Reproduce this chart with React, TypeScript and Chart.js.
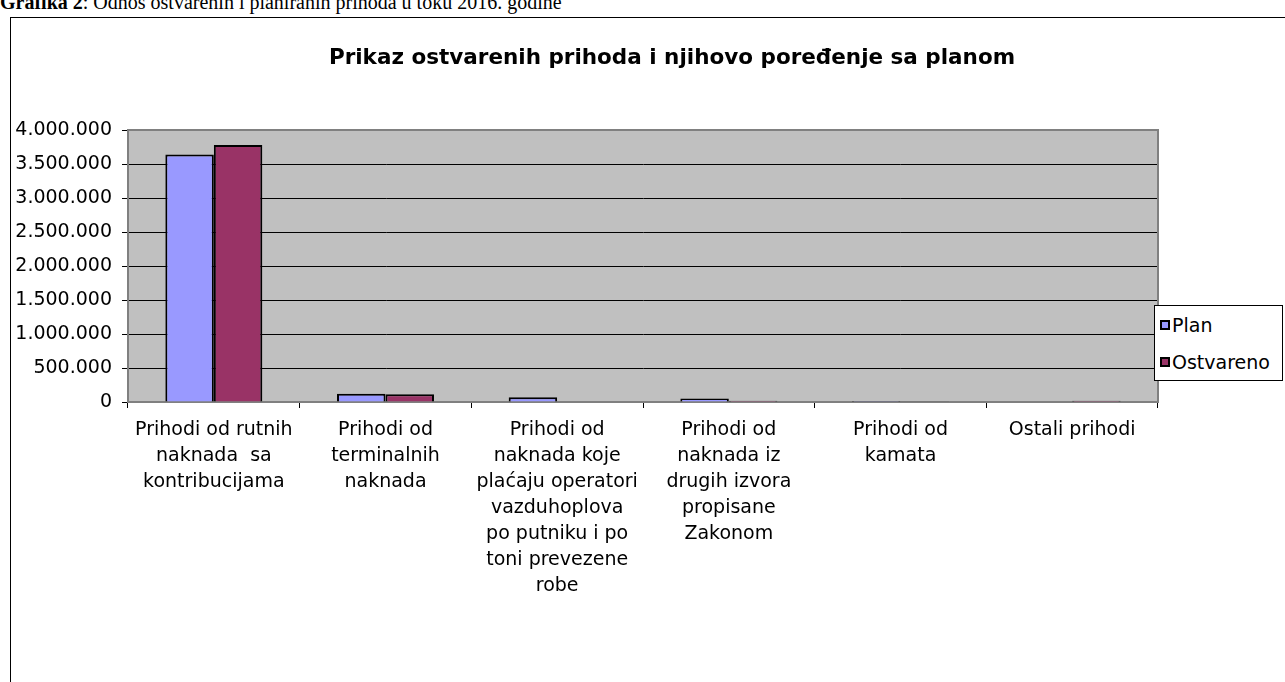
import React, { useEffect, useRef } from "react";
import { Chart, registerables } from "chart.js";

Chart.register(...registerables);

const categories: string[][] = [
  ["Prihodi od rutnih", "naknada  sa", "kontribucijama"],
  ["Prihodi od", "terminalnih", "naknada"],
  ["Prihodi od", "naknada koje", "plaćaju operatori", "vazduhoplova", "po putniku i po", "toni prevezene", "robe"],
  ["Prihodi od", "naknada iz", "drugih izvora", "propisane", "Zakonom"],
  ["Prihodi od", "kamata"],
  ["Ostali prihodi"],
];
const planValues = [3640000, 120000, 70000, 50000, 15000, 0];
const ostvarenoValues = [3780000, 115000, 0, 20000, 10000, 20000];
const seriesNames = ["Plan", "Ostvareno"];
const seriesColors = ["#9999FF", "#993366"];
const titleText = "Prikaz ostvarenih prihoda i njihovo poređenje sa planom";
const captionBold = "Grafika 2";
const captionRest = ": Odnos ostvarenih i planiranih prihoda u toku 2016. godine";

const FONT = "'DejaVu Sans', 'Liberation Sans', Arial, sans-serif";

const plotBg = {
  id: "plotBg",
  beforeDatasetsDraw(chart: any) {
    const { ctx, chartArea } = chart;
    ctx.save();
    ctx.strokeStyle = "#808080";
    ctx.lineWidth = 2;
    ctx.strokeRect(chartArea.left, chartArea.top, chartArea.right - chartArea.left, chartArea.bottom - chartArea.top);
    ctx.restore();
  },
  beforeDraw(chart: any) {
    const { ctx, chartArea } = chart;
    ctx.save();
    ctx.fillStyle = "#C0C0C0";
    ctx.fillRect(chartArea.left, chartArea.top, chartArea.right - chartArea.left, chartArea.bottom - chartArea.top);
    ctx.restore();
  },
};

export default function App() {
  const ref = useRef<HTMLCanvasElement>(null);
  useEffect(() => {
    document.body.style.margin = "0";
    document.body.style.overflow = "hidden";
    const chart = new Chart(ref.current!, {
      type: "bar",
      data: {
        labels: categories,
        datasets: [
          { label: seriesNames[0], data: planValues, backgroundColor: seriesColors[0], borderColor: "#000", borderWidth: 2 },
          { label: seriesNames[1], data: ostvarenoValues, backgroundColor: seriesColors[1], borderColor: "#000", borderWidth: 2 },
        ],
      },
      options: {
        animation: false,
        responsive: false,
        maintainAspectRatio: false,
        layout: { padding: { left: 0, right: 127, top: 130, bottom: 0 } },
        plugins: { legend: { display: false }, title: { display: false }, tooltip: { enabled: false } },
        datasets: { bar: { barPercentage: 1, categoryPercentage: 0.565 } },
        scales: {
          x: {
            offset: true,
            grid: { display: true, drawOnChartArea: false, drawTicks: true, tickLength: 6, color: "#000" },
            border: { display: true, color: "#404040", width: 2 },
            ticks: { color: "#000", font: { family: FONT, size: 19, lineHeight: "26px" }, maxRotation: 0, autoSkip: false, padding: 9 },
            afterFit(scale: any) { scale.height = 280; },
          },
          y: {
            min: 0,
            max: 4000000,
            ticks: {
              stepSize: 500000,
              color: "#000",
              font: { family: FONT, size: 19 },
              padding: 10,
              callback: (v: any) => Number(v).toString().replace(/\B(?=(\d{3})+(?!\d))/g, "."),
            },
            grid: { color: "#000", lineWidth: 1, tickLength: 6 },
            border: { display: true, color: "#000", width: 1 },
            afterFit(scale: any) { scale.width = 128; },
          },
        },
      },
      plugins: [plotBg],
    });
    return () => chart.destroy();
  }, []);

  return (
    <div style={{ position: "relative", width: 1285, height: 682, overflow: "hidden", background: "#fff" }}>
      <div style={{ position: "absolute", left: 0, top: -8, fontFamily: "'Liberation Serif', 'Times New Roman', serif", fontSize: 20, lineHeight: "20px", whiteSpace: "nowrap", color: "#000" }}>
        <b>{captionBold}</b>{captionRest}
      </div>
      <div style={{ position: "absolute", left: 10, top: 17, width: 1400, height: 800, border: "1px solid #000", boxSizing: "border-box" }} />
      <canvas ref={ref} width={1285} height={682} style={{ position: "absolute", left: 0, top: 0, width: 1285, height: 682 }} />
      <div style={{ position: "absolute", left: 0, width: 1344, top: 44, textAlign: "center", fontFamily: FONT, fontWeight: "bold", fontSize: 21.5, lineHeight: "26px", whiteSpace: "nowrap", color: "#000" }}>
        {titleText}
      </div>
      <div style={{ position: "absolute", left: 1154, top: 305, width: 129, height: 76, background: "#fff", border: "1px solid #000", boxSizing: "border-box", fontFamily: FONT, fontSize: 19, color: "#000" }}>
        {seriesNames.map((n, i) => (
          <div key={n} style={{ position: "absolute", left: 5, top: i === 0 ? 8 : 45, display: "flex", alignItems: "center", lineHeight: "22px", whiteSpace: "nowrap" }}>
            <span style={{ display: "inline-block", width: 6, height: 6, border: "2px solid #000", background: seriesColors[i], marginRight: 2 }} />
            <span>{n}</span>
          </div>
        ))}
      </div>
    </div>
  );
}
